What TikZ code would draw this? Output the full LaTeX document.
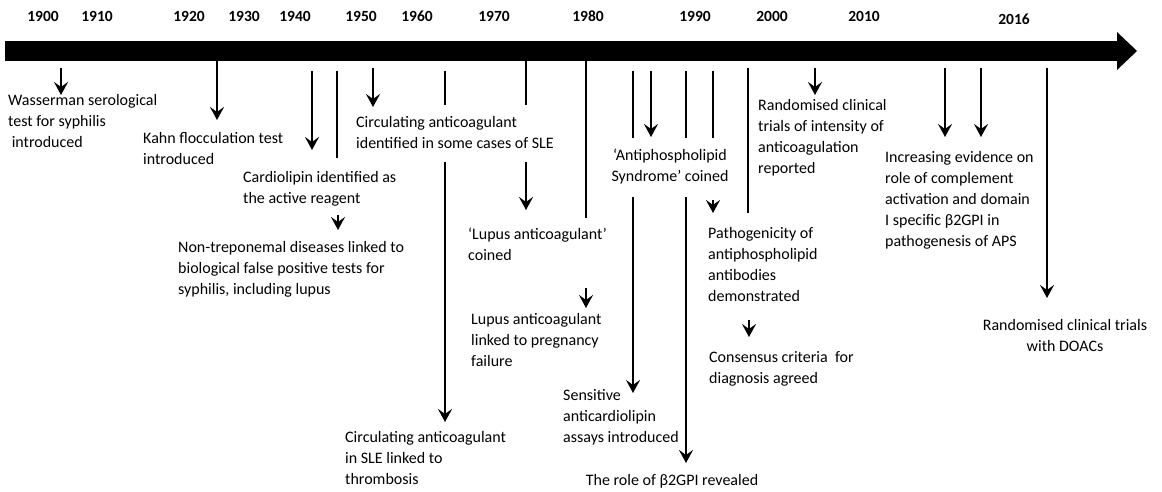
\documentclass[tikz,border=0pt]{standalone}
\usepackage{fontspec}
\setmainfont{Carlito}
\usetikzlibrary{arrows.meta}
\begin{document}
\begin{tikzpicture}[x=1pt,y=-1pt,
  txt/.style={font=\fontsize{16}{21}\selectfont, inner sep=0pt, align=left, anchor=north west, yshift=9.2pt, execute at begin node=\strut},
  ctxt/.style={txt, align=center, anchor=north},
  yr/.style={font=\fontsize{15.5}{18}\selectfont\bfseries, inner sep=0pt, anchor=base},
  ln/.style={line width=2.8pt},
  arr/.style={line width=2.8pt, -{Stealth[length=13pt,width=14pt,inset=5pt]}}]
\useasboundingbox (0,0) rectangle (1162,492);
\fill[white] (0,0) rectangle (1162,492);

% timeline bar
\fill[black] (5,41) rectangle (1119,61);
\fill[black] (1117,32) -- (1137,51) -- (1117,70) -- cycle;

% years
\node[yr] (y1900) at (43,22) {1900};
\node[yr] (y1910) at (97,22) {1910};
\node[yr] (y1920) at (189,22) {1920};
\node[yr] (y1930) at (244,22) {1930};
\node[yr] (y1940) at (295,22) {1940};
\node[yr] (y1950) at (361,22) {1950};
\node[yr] (y1960) at (417,22) {1960};
\node[yr] (y1970) at (494,22) {1970};
\node[yr] (y1980) at (588,22) {1980};
\node[yr] (y1990) at (695,22) {1990};
\node[yr] (y2000) at (772,22) {2000};
\node[yr] (y2010) at (864,22) {2010};
\node[yr] (y2016) at (1014,25) {2016};

% event texts
\node[txt] (wass) at (8,103) {Wasserman serological\\test for syphilis\\\hspace*{3.6pt}introduced};
\node[txt] (kahn) at (143,141) {Kahn flocculation test\\introduced};
\node[txt] (cardio) at (243,180) {Cardiolipin identified as\\the active reagent};
\node[txt] (nontrep) at (178,250) {Non-treponemal diseases linked to\\biological false positive tests for\\syphilis, including lupus};
\node[txt] (circA) at (356,125) {Circulating anticoagulant\\identified in some cases of SLE};
\node[txt] (circB) at (345,440) {Circulating anticoagulant\\in SLE linked to\\thrombosis};
\node[txt] (lupA) at (468,237) {‘Lupus anticoagulant’\\coined};
\node[txt] (lupB) at (471,322) {Lupus anticoagulant\\linked to pregnancy\\failure};
\node[ctxt] (aps) at (670,158) {‘Antiphospholipid\\Syndrome’ coined};
\node[txt] (sens) at (563,398) {Sensitive\\anticardiolipin\\assays introduced};
\node[ctxt] (beta) at (672,480) {The role of β2GPI revealed};
\node[txt] (patho) at (708,236) {Pathogenicity of\\antiphospholipid\\antibodies\\demonstrated};
\node[txt] (cons) at (709,360) {Consensus criteria\ \ for\\diagnosis agreed};
\node[txt] (randA) at (758,108) {Randomised clinical\\trials of intensity of\\anticoagulation\\reported};
\node[txt] (incr) at (885,160) {Increasing evidence on\\role of complement\\activation and domain\\I specific β2GPI in\\pathogenesis of APS};
\node[ctxt] (doac) at (1065,328) {Randomised clinical trials\\with DOACs};

% connectors
\draw[arr] (61,68) coordinate (wass0) -- (61,95) coordinate (wass1);
\draw[arr] (217,61) coordinate (kahn0) -- (217,120) coordinate (kahn1);
\draw[arr] (312,71) coordinate (card0) -- (312,150) coordinate (card1);
\draw[ln] (337,71) coordinate (nt0) -- (337,158) coordinate (nt1);
\draw[arr] (338,215) coordinate (nt2) -- (338,230) coordinate (nt3);
\draw[arr] (373,68) coordinate (ca0) -- (373,107) coordinate (ca1);
\draw[ln] (445,71) coordinate (cb0) -- (445,105) coordinate (cb1);
\draw[arr] (445,162) coordinate (cb2) -- (445,422) coordinate (cb3);
\draw[ln] (526,61) coordinate (la0) -- (526,105) coordinate (la1);
\draw[arr] (526,162) coordinate (la2) -- (526,210) coordinate (la3);
\draw[ln] (586,61) coordinate (lb0) -- (586,218) coordinate (lb1);
\draw[arr] (586,288) coordinate (lb2) -- (586,308) coordinate (lb3);
\draw[ln] (633,71) coordinate (se0) -- (633,138) coordinate (se1);
\draw[arr] (651,71) coordinate (ap0) -- (651,137) coordinate (ap1);
\draw[ln] (686,71) coordinate (be0) -- (686,138) coordinate (be1);
\draw[ln] (713,71) coordinate (pa0) -- (713,138) coordinate (pa1);
\draw[arr] (633,197) coordinate (se2) -- (633,393) coordinate (se3);
\draw[arr] (686,197) coordinate (be2) -- (686,463) coordinate (be3);
\draw[arr] (713,200) coordinate (pa2) -- (713,213) coordinate (pa3);
\draw[ln] (748,68) coordinate (co0) -- (748,213) coordinate (co1);
\draw[arr] (749,320) coordinate (co2) -- (749,337) coordinate (co3);
\draw[arr] (815,68) coordinate (ra0) -- (815,95) coordinate (ra1);
\draw[arr] (945,68) coordinate (in0) -- (945,137) coordinate (in1);
\draw[arr] (981,68) coordinate (in2) -- (981,137) coordinate (in3);
\draw[arr] (1047,68) coordinate (do0) -- (1047,298) coordinate (do1);
\end{tikzpicture}
\end{document}
